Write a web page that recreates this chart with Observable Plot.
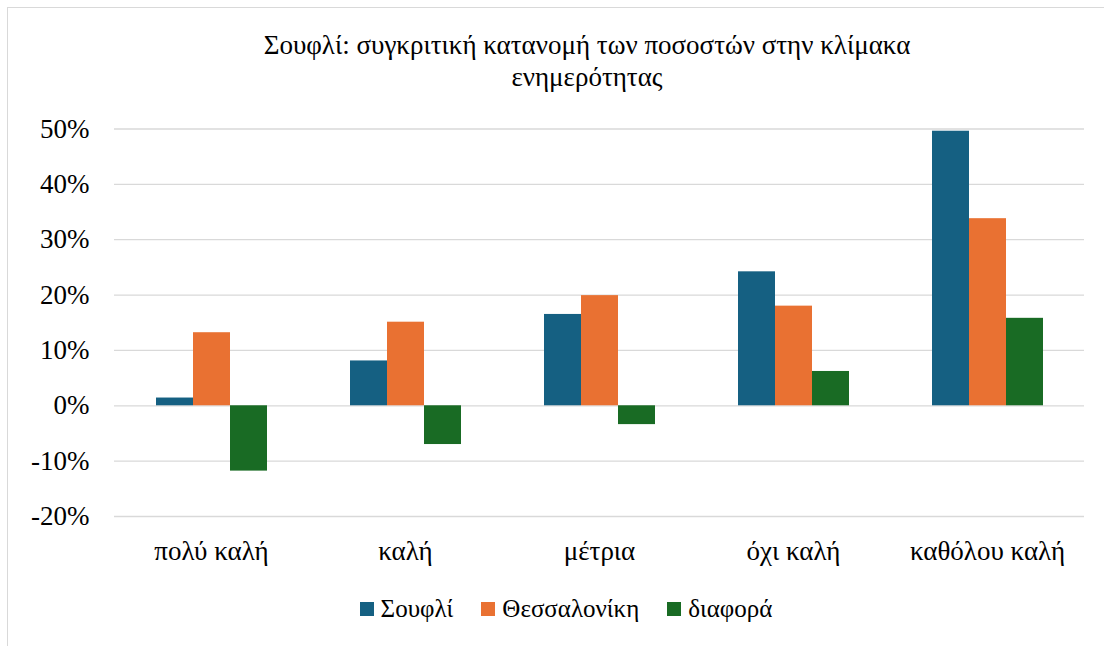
<!DOCTYPE html>
<html>
<head>
<meta charset="utf-8">
<script src="https://cdn.jsdelivr.net/npm/d3@7"></script>
<script src="https://cdn.jsdelivr.net/npm/@observablehq/plot@0.6"></script>
<style>
  html, body { margin: 0; padding: 0; background: #fff; }
  #wrap { position: relative; width: 1104px; height: 646px; overflow: hidden; color: #000; font-family: 'Times New Roman', Tinos, 'Liberation Serif', serif; }
  #frame { position: absolute; left: 7px; top: 7px; width: 1200px; height: 700px; border: 1px solid #d9d9d9; box-sizing: border-box; }
  #title { position: relative; height: 100px; box-sizing: border-box; padding-top: 29px; font-size: 27px; line-height: 32px; }
  #title div { position: absolute; left: 0; width: 1174px; text-align: center; }
  #chart { position: relative; height: 480px; }
  #chart svg { display: block; }
  #legend { position: relative; display: flex; justify-content: center; align-items: center; width: 1132px; padding-top: 14px; font-size: 25px; line-height: 30px; }
  .item { display: flex; align-items: center; margin: 0 14px; }
  .sw { width: 14px; height: 14px; margin-right: 7px; }
</style>
</head>
<body>
<div id="wrap">
  <div id="frame"></div>
  <div id="title"><div>Σουφλί: συγκριτική κατανομή των ποσοστών στην κλίμακα<br>ενημερότητας</div></div>
  <div id="chart"></div>
  <div id="legend"></div>
</div>
<script>
const categories = ["πολύ καλή", "καλή", "μέτρια", "όχι καλή", "καθόλου καλή"];
const seriesNames = ["Σουφλί", "Θεσσαλονίκη", "διαφορά"];
const soufli = [1.4, 8.1, 16.5, 24.2, 49.6];
const thessaloniki = [13.2, 15.1, 19.9, 18.0, 33.8];
const diafora = [-11.8, -7.0, -3.4, 6.2, 15.8];
const colors = ["#156082", "#E97132", "#196B24"];
const yTicks = [-20, -10, 0, 10, 20, 30, 40, 50];

const seriesValues = [soufli, thessaloniki, diafora];
const data = [];
categories.forEach((c, i) => {
  seriesNames.forEach((s, j) => {
    data.push({category: c, series: s, value: seriesValues[j][i]});
  });
});

const chart = Plot.plot({
  width: 1104,
  height: 480,
  marginLeft: 113,
  marginRight: 19,
  marginTop: 28.5,
  marginBottom: 64,
  style: {fontFamily: "'Times New Roman', Tinos, 'Liberation Serif', serif", fontSize: "27px", color: "#000", background: "transparent"},
  fx: {domain: categories, paddingInner: 0, paddingOuter: 0, axis: "bottom", tickSize: 0, tickPadding: 24, label: null},
  x: {domain: seriesNames, paddingInner: 0, paddingOuter: 1.092, axis: null},
  y: {domain: [-20, 50], ticks: yTicks, tickFormat: d => d + "%", tickSize: 0, tickPadding: 25, label: null},
  color: {domain: seriesNames, range: colors},
  marks: [
    Plot.gridY(yTicks, {stroke: "#d9d9d9", strokeOpacity: 1, strokeWidth: 1.3}),
    Plot.barY(data, {fx: "category", x: "series", y: "value", fill: "series"})
  ]
});
document.getElementById("chart").appendChild(chart);

const legend = document.getElementById("legend");
seriesNames.forEach((s, j) => {
  const item = document.createElement("div");
  item.className = "item";
  const sw = document.createElement("div");
  sw.className = "sw";
  sw.style.background = colors[j];
  const t = document.createElement("span");
  t.textContent = s;
  item.appendChild(sw);
  item.appendChild(t);
  legend.appendChild(item);
});
</script>
</body>
</html>
